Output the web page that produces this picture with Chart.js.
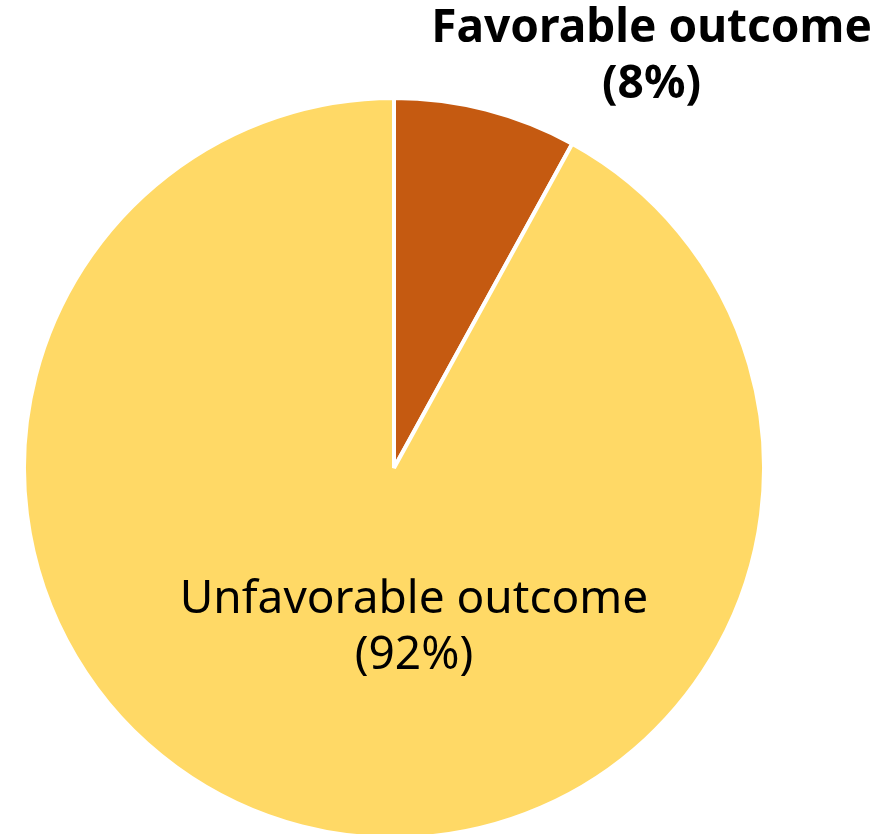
<!DOCTYPE html>
<html lang="en">
<head>
    <meta charset="UTF-8">
    <title>Outcome pie</title>
    <script src="https://cdn.jsdelivr.net/npm/chart.js"></script>
    <style>
        html, body {
            margin: 0;
            padding: 0;
            background: #ffffff;
            overflow: hidden;
        }
        .chart-container {
            position: relative;
            width: 887px;
            height: 840px;
        }
    </style>
</head>
<body>
    <div class="chart-container">
        <canvas id="outcomeChart"></canvas>
    </div>

    <script>
        const labels = ['Favorable outcome', 'Unfavorable outcome'];
        const values = [8, 92];
        const colors = ['#C55A11', '#FFD966'];

        // where each label sits, in units of the pie radius from its centre
        const labelOffsets = [[0.696, -1.11], [0.054, 0.432]];
        const labelBold = [true, false];

        const sliceLabels = {
            id: 'sliceLabels',
            afterDraw(chart) {
                const ctx = chart.ctx;
                const arcs = chart.getDatasetMeta(0).data;
                const total = values.reduce((a, b) => a + b, 0);
                ctx.save();
                ctx.fillStyle = '#000000';
                ctx.textAlign = 'center';
                ctx.textBaseline = 'middle';
                arcs.forEach((arc, i) => {
                    const r = arc.outerRadius;
                    const x = arc.x + labelOffsets[i][0] * r;
                    const y = arc.y + labelOffsets[i][1] * r;
                    ctx.font = (labelBold[i] ? 'bold ' : '') + '46px "Noto Sans", sans-serif';
                    const pct = Math.round(values[i] / total * 100) + '%';
                    ctx.fillText(labels[i], x, y - 28);
                    ctx.fillText('(' + pct + ')', x, y + 28);
                });
                ctx.restore();
            }
        };

        new Chart(document.getElementById('outcomeChart'), {
            type: 'pie',
            data: {
                labels: labels,
                datasets: [{
                    data: values,
                    backgroundColor: colors,
                    borderColor: '#ffffff',
                    borderWidth: 4
                }]
            },
            options: {
                responsive: true,
                maintainAspectRatio: false,
                animation: false,
                layout: {
                    padding: { left: 22, right: 121, top: 96, bottom: 0 }
                },
                plugins: {
                    legend: { display: false },
                    tooltip: { enabled: false }
                }
            },
            plugins: [sliceLabels]
        });
    </script>
</body>
</html>
